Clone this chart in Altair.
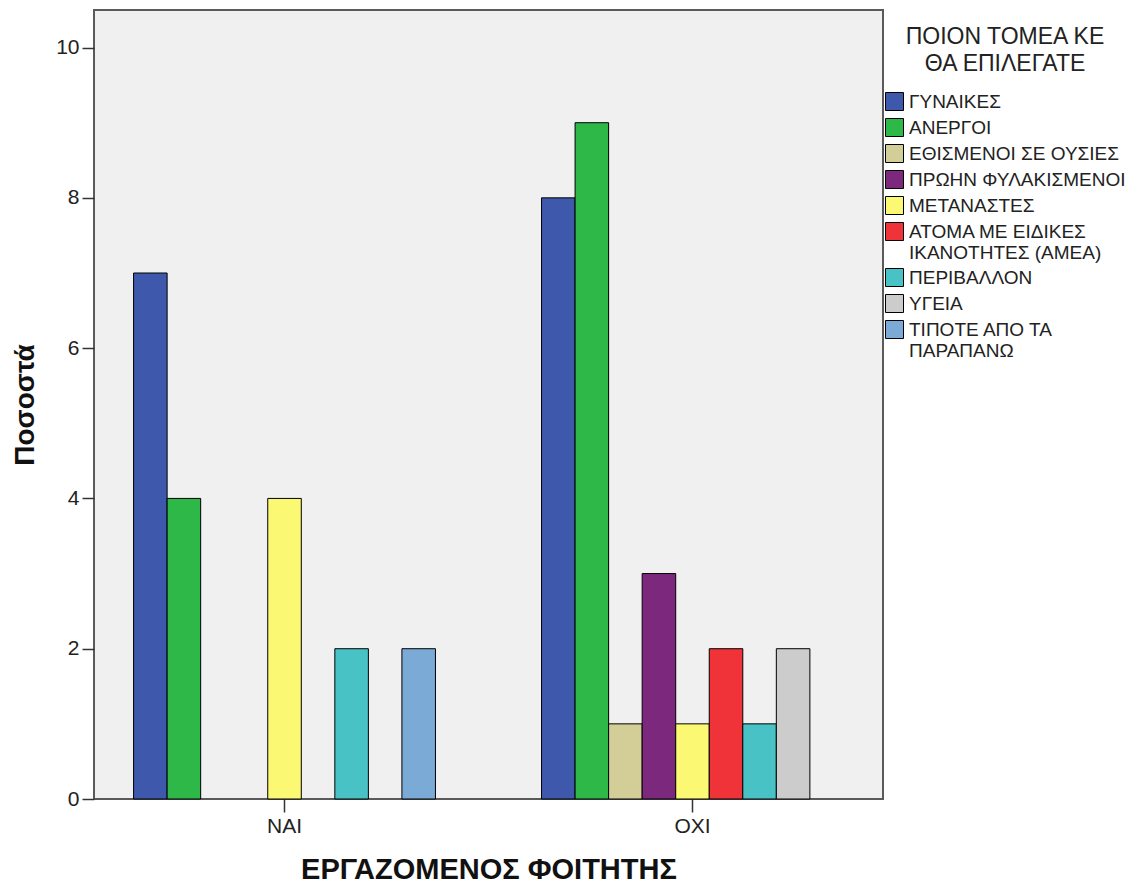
import altair as alt
import pandas as pd

groups = ["ΝΑΙ", "ΟΧΙ"]
categories = [
    "ΓΥΝΑΙΚΕΣ",
    "ΑΝΕΡΓΟΙ",
    "ΕΘΙΣΜΕΝΟΙ ΣΕ ΟΥΣΙΕΣ",
    "ΠΡΩΗΝ ΦΥΛΑΚΙΣΜΕΝΟΙ",
    "ΜΕΤΑΝΑΣΤΕΣ",
    "ΑΤΟΜΑ ΜΕ ΕΙΔΙΚΕΣ\nΙΚΑΝΟΤΗΤΕΣ (ΑΜΕΑ)",
    "ΠΕΡΙΒΑΛΛΟΝ",
    "ΥΓΕΙΑ",
    "ΤΙΠΟΤΕ ΑΠΟ ΤΑ\nΠΑΡΑΠΑΝΩ",
]
colors = ["#3e58ac", "#2eb848", "#d3ce97", "#7c287d", "#fbf873",
          "#ef3338", "#48c2c5", "#cccccc", "#7aaad5"]
values_nai = [7, 4, 0, 0, 4, 0, 2, 0, 2]
values_oxi = [8, 9, 1, 3, 1, 2, 1, 2, 0]

rows = []
for g, vals in zip(groups, [values_nai, values_oxi]):
    for c, v in zip(categories, vals):
        rows.append({"group": g, "cat": c, "value": v})
df = pd.DataFrame(rows)

FONT = "Liberation Sans"

chart = alt.Chart(df).transform_filter(
    alt.datum.value > 0
).mark_bar(stroke="black", strokeWidth=1).encode(
    x=alt.X("group:N", sort=groups,
            scale=alt.Scale(paddingInner=0.26, paddingOuter=0.097),
            axis=alt.Axis(title="ΕΡΓΑΖΟΜΕΝΟΣ ΦΟΙΤΗΤΗΣ", labelAngle=0,
                          tickSize=13, labelPadding=3, labelFontSize=21,
                          labelColor="#222", tickColor="#333", tickWidth=1.5,
                          domain=False, titleFontSize=29, titleFontWeight="bold",
                          titleColor="#111", titleY=70, titleBaseline="middle",
                          labelFont=FONT, titleFont=FONT)),
    xOffset=alt.XOffset("cat:N", sort=categories,
                        scale=alt.Scale(domain=categories, paddingInner=0, paddingOuter=0)),
    y=alt.Y("value:Q",
            scale=alt.Scale(domain=[0, 10.5], nice=False),
            axis=alt.Axis(title="Ποσοστά", values=[0, 2, 4, 6, 8, 10], grid=False,
                          tickSize=12, labelPadding=3, labelFontSize=21,
                          labelColor="#222", tickColor="#333", tickWidth=1.5,
                          domain=False, titleFontSize=28, titleFontWeight="bold",
                          titleColor="#111", titleX=-69, titleY=394.5,
                          titleBaseline="middle", titleAlign="center", titleAngle=-90,
                          labelFont=FONT, titleFont=FONT)),
    color=alt.Color("cat:N", sort=categories,
                    scale=alt.Scale(domain=categories, range=colors),
                    legend=alt.Legend(
                        title=["ΠΟΙΟΝ ΤΟΜΕΑ ΚΕ", "ΘΑ ΕΠΙΛΕΓΑΤΕ"],
                        orient="none", legendX=791, legendY=16,
                        titleFontSize=23, titleFontWeight="normal", titleLineHeight=27,
                        titleAnchor="middle", titleAlign="center", titleColor="#222",
                        titlePadding=16, titleFont=FONT, titleLimit=500,
                        labelFontSize=19, labelFont=FONT, labelColor="#222",
                        labelLimit=400, labelOffset=5,
                        labelExpr="split(datum.label, '\\n')",
                        symbolType="square", symbolSize=324,
                        symbolStrokeColor="black", symbolStrokeWidth=1,
                        symbolOpacity=1, rowPadding=3, padding=0,
                    )),
).properties(
    width=789, height=789,
    autosize=alt.AutoSizeParams(type="none"),
    padding={"left": 86, "top": 2, "right": 250, "bottom": 85},
).configure(
    background="white"
).configure_view(
    fill="#f0f0f0", stroke="#5a5a5a", strokeWidth=2
)

chart.save("out.html", embed_options={"renderer": "svg", "actions": False})
